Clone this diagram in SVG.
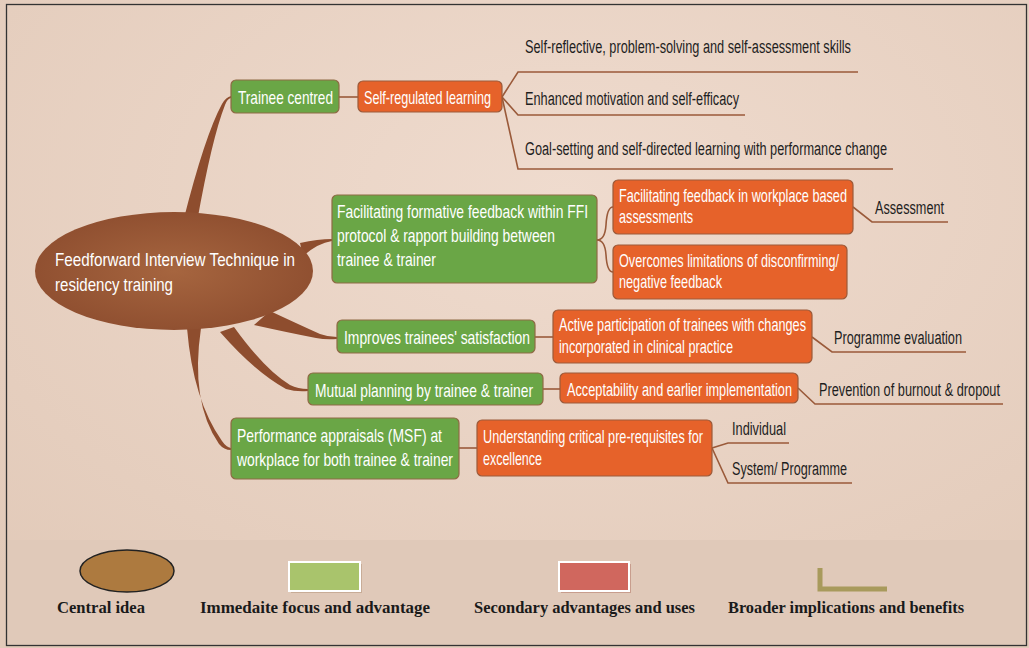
<svg xmlns="http://www.w3.org/2000/svg" width="1029" height="648" viewBox="0 0 1029 648">
<defs>
<radialGradient id="bg" cx="0.55" cy="0.3" r="0.8">
<stop offset="0" stop-color="#efdbce"/>
<stop offset="1" stop-color="#e2cab9"/>
</radialGradient>
<radialGradient id="cen" cx="0.5" cy="0.5" r="0.6">
<stop offset="0" stop-color="#a6653f"/>
<stop offset="1" stop-color="#8c4c2e"/>
</radialGradient>
<style>
.g{fill:#6aa646;stroke:#8e6a44;stroke-width:1.2}
.o{fill:#e6622a;stroke:#9b5a3a;stroke-width:1.2}
.w{fill:#ffffff;font-family:"Liberation Sans",Arial,sans-serif;font-size:19px}
.d{fill:#1e1e1e;font-family:"Liberation Sans",Arial,sans-serif;font-size:18px}
.c{fill:none;stroke:#9a5a3a;stroke-width:1.6}
.br{fill:#8e4d2e}
.lg{fill:#1a1a1a;font-family:"Liberation Serif","Times New Roman",serif;font-size:16px;font-weight:bold}
</style>
</defs>
<rect x="0" y="0" width="1029" height="648" fill="url(#bg)"/>
<rect x="7" y="540" width="1019" height="106" fill="#e0c9b9"/>
<rect x="6.5" y="4.5" width="1020" height="641" fill="none" stroke="#333" stroke-width="1.3"/>

<g id="connectors">
<path class="br" d="M183,222 Q205,135 222,104 Q226,97 231,96 L231,98 Q227,99 225,105 Q212,138 197,222 Z"/>
<path class="br" d="M300,243 Q318,239 332,239 L332,241 Q318,243 303,256 Z"/>
<path class="br" d="M270,311 Q300,325 320,334 Q328,337 337,337 L337,339 Q326,340 316,338 Q290,333 254,325 Z"/>
<path class="br" d="M234,327 Q265,370 290,385 Q298,389 308,389 L308,391 Q296,392 286,389 Q255,372 220,332 Z"/>
<path class="br" d="M187,328 Q193,400 222,441 Q226,447 231,448 L231,450 Q224,450 219,444 Q190,402 201,328 Z"/>
<path class="c" d="M339,97 L358,97"/>
<path class="c" d="M502,97 L518,72 L858,72"/>
<path class="c" d="M502,97 L518,115 L745,115"/>
<path class="c" d="M502,97 L518,169 L893,169"/>
<path class="c" d="M597,240 Q605,240 606,225 Q607,207 613,207"/>
<path class="c" d="M597,240 Q605,240 606,255 Q607,272 613,272"/>
<path class="c" d="M853,207 L872,222 L948,222"/>
<path class="c" d="M535,337 L553,337"/>
<path class="c" d="M812,337 L832,352 L966,352"/>
<path class="c" d="M543,389 L560,389"/>
<path class="c" d="M798,388 L815,404 L1003,404"/>
<path class="c" d="M459,448 L477,448"/>
<path class="c" d="M712,448 L728,443 L789,443"/>
<path class="c" d="M712,448 L728,483 L852,483"/>
</g>

<g id="central">
<ellipse cx="174" cy="271" rx="139" ry="59" fill="url(#cen)"/>
<text class="w" x="55" y="266" font-size="22" textLength="240" lengthAdjust="spacingAndGlyphs">Feedforward Interview Technique in</text>
<text class="w" x="55" y="291" font-size="22" textLength="118" lengthAdjust="spacingAndGlyphs">residency training</text>
</g>

<g id="trainee-centred">
<rect class="g" x="231" y="80" width="108" height="33" rx="5"/>
<text class="w" x="238" y="104" textLength="95" lengthAdjust="spacingAndGlyphs">Trainee centred</text>
</g>
<g id="self-regulated">
<rect class="o" x="358" y="81" width="144" height="31" rx="5"/>
<text class="w" x="364" y="104" textLength="127" lengthAdjust="spacingAndGlyphs">Self-regulated learning</text>
</g>
<g id="sr1"><text class="d" x="525" y="53" textLength="326" lengthAdjust="spacingAndGlyphs">Self-reflective, problem-solving and self-assessment skills</text></g>
<g id="sr2"><text class="d" x="525" y="105" textLength="214" lengthAdjust="spacingAndGlyphs">Enhanced motivation and self-efficacy</text></g>
<g id="sr3"><text class="d" x="525" y="155" textLength="362" lengthAdjust="spacingAndGlyphs">Goal-setting and self-directed learning with performance change</text></g>

<g id="ffi">
<rect class="g" x="332" y="195" width="265" height="88" rx="5"/>
<text class="w" x="337" y="218" font-size="20" textLength="251" lengthAdjust="spacingAndGlyphs">Facilitating formative feedback within FFI</text>
<text class="w" x="337" y="242" font-size="20" textLength="218" lengthAdjust="spacingAndGlyphs">protocol &amp; rapport building between</text>
<text class="w" x="337" y="266" font-size="20" textLength="99" lengthAdjust="spacingAndGlyphs">trainee &amp; trainer</text>
</g>
<g id="wba">
<rect class="o" x="613" y="180" width="240" height="54" rx="5"/>
<text class="w" x="619" y="202" textLength="228" lengthAdjust="spacingAndGlyphs">Facilitating feedback in workplace based</text>
<text class="w" x="619" y="223" textLength="74" lengthAdjust="spacingAndGlyphs">assessments</text>
</g>
<g id="overcomes">
<rect class="o" x="613" y="245" width="234" height="54" rx="5"/>
<text class="w" x="619" y="267" textLength="220" lengthAdjust="spacingAndGlyphs">Overcomes limitations of disconfirming/</text>
<text class="w" x="619" y="288" textLength="103" lengthAdjust="spacingAndGlyphs">negative feedback</text>
</g>
<g id="assessment"><text class="d" x="875" y="214" textLength="69" lengthAdjust="spacingAndGlyphs">Assessment</text></g>

<g id="improves">
<rect class="g" x="337" y="320" width="198" height="33" rx="5"/>
<text class="w" x="344" y="344" textLength="186" lengthAdjust="spacingAndGlyphs">Improves trainees' satisfaction</text>
</g>
<g id="active">
<rect class="o" x="553" y="310" width="259" height="53" rx="5"/>
<text class="w" x="559" y="331" textLength="247" lengthAdjust="spacingAndGlyphs">Active participation of trainees with changes</text>
<text class="w" x="559" y="353" textLength="174" lengthAdjust="spacingAndGlyphs">incorporated in clinical practice</text>
</g>
<g id="prog-eval"><text class="d" x="834" y="344" textLength="128" lengthAdjust="spacingAndGlyphs">Programme evaluation</text></g>

<g id="mutual">
<rect class="g" x="308" y="373" width="235" height="32" rx="5"/>
<text class="w" x="315" y="397" textLength="218" lengthAdjust="spacingAndGlyphs">Mutual planning by trainee &amp; trainer</text>
</g>
<g id="acceptability">
<rect class="o" x="560" y="373" width="238" height="30" rx="5"/>
<text class="w" x="567" y="396" textLength="225" lengthAdjust="spacingAndGlyphs">Acceptability and earlier implementation</text>
</g>
<g id="prevention"><text class="d" x="819" y="396" textLength="181" lengthAdjust="spacingAndGlyphs">Prevention of burnout &amp; dropout</text></g>

<g id="performance">
<rect class="g" x="231" y="418" width="228" height="61" rx="5"/>
<text class="w" x="237" y="442" font-size="20" textLength="205" lengthAdjust="spacingAndGlyphs">Performance appraisals (MSF) at</text>
<text class="w" x="237" y="466" font-size="20" textLength="216" lengthAdjust="spacingAndGlyphs">workplace for both trainee &amp; trainer</text>
</g>
<g id="understanding">
<rect class="o" x="477" y="420" width="235" height="56" rx="5"/>
<text class="w" x="483" y="443" textLength="220" lengthAdjust="spacingAndGlyphs">Understanding critical pre-requisites for</text>
<text class="w" x="483" y="465" textLength="59" lengthAdjust="spacingAndGlyphs">excellence</text>
</g>
<g id="individual"><text class="d" x="732" y="435" textLength="54" lengthAdjust="spacingAndGlyphs">Individual</text></g>
<g id="system"><text class="d" x="732" y="475" textLength="115" lengthAdjust="spacingAndGlyphs">System/ Programme</text></g>

<g id="legend">
<ellipse cx="127" cy="571" rx="47" ry="21" fill="#ad7a3f" stroke="#222" stroke-width="1.5"/>
<text class="lg" x="57" y="613" textLength="88" lengthAdjust="spacingAndGlyphs">Central idea</text>
<rect x="291" y="564" width="71" height="29" fill="#b89a80" opacity="0.6"/>
<rect x="289" y="562" width="71" height="29" fill="#a9c46c" stroke="#ffffff" stroke-width="2"/>
<text class="lg" x="200" y="613" textLength="230" lengthAdjust="spacingAndGlyphs">Immedaite focus and advantage</text>
<rect x="561" y="564" width="70" height="29" fill="#b88070" opacity="0.6"/>
<rect x="559" y="562" width="70" height="29" fill="#d0675e" stroke="#ffffff" stroke-width="2"/>
<text class="lg" x="474" y="613" textLength="221" lengthAdjust="spacingAndGlyphs">Secondary advantages and uses</text>
<path d="M820,568 L820,589 L887,589" fill="none" stroke="#a89a5c" stroke-width="5"/>
<text class="lg" x="728" y="613" textLength="236" lengthAdjust="spacingAndGlyphs">Broader implications and benefits</text>
</g>
</svg>
